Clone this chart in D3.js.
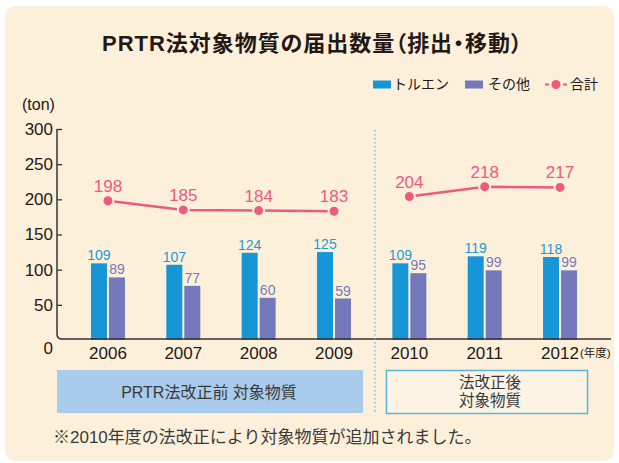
<!DOCTYPE html>
<html><head><meta charset="utf-8">
<script src="https://cdn.jsdelivr.net/npm/d3@7"></script>
<style>html,body{margin:0;padding:0;background:#fff;}svg{display:block;}</style>
</head><body>
<script>
const years = ["2006","2007","2008","2009","2010","2011","2012"];
const toluene = [109,107,124,125,109,119,118];
const others = [89,77,60,59,95,99,99];
const totals = [198,185,184,183,204,218,217];
const lineGroups = [[0,1,2,3],[4,5,6]];
const yTicks = [50,100,150,200,250,300];
const title = "PRTR法対象物質の届出数量（排出・移動）";
const seriesNames = ["トルエン","その他","合計"];
const unitLabel = "(ton)";
const yearUnit = "(年度)";
const boxBefore = "PRTR法改正前 対象物質";
const boxAfter = ["法改正後","対象物質"];
const footnote = "※2010年度の法改正により対象物質が追加されました。";

const W = 619, H = 463;
const BG = "#fdf0da", BLUE = "#1696d6", PURPLE = "#7479bb", PINK = "#ec5a7c", TXT = "#231815";
const FONT = "'Liberation Sans', 'Noto Sans CJK JP', sans-serif";

const svg = d3.select("body").append("svg").attr("width", W).attr("height", H)
  .style("font-family", FONT);

svg.append("rect").attr("x",5).attr("y",6).attr("width",609).attr("height",455)
  .attr("rx",10).attr("fill",BG);

svg.append("text").attr("x",102).attr("y",51)
  .attr("font-size",22).attr("font-weight","bold").attr("fill",TXT)
  .style("font-feature-settings","'palt'")
  .attr("textLength",420).attr("lengthAdjust","spacing").text(title);

const x = d3.scaleBand().domain(years).range([70.3, 597.7]);
const inner = d3.scaleBand().domain(["t","o"]).range([-17,17]).paddingInner(0.111);
const y = d3.scaleLinear().domain([0,300]).range([340,129]);
const cx = d => x(d) + x.bandwidth()/2;

// legend
const lg = svg.append("g").attr("font-size",14).attr("fill",TXT);
lg.append("rect").attr("x",373).attr("y",80.5).attr("width",18).attr("height",8).attr("fill",BLUE);
lg.append("text").attr("x",393).attr("y",89).text(seriesNames[0]);
lg.append("rect").attr("x",465).attr("y",80.5).attr("width",18).attr("height",8).attr("fill",PURPLE);
lg.append("text").attr("x",488).attr("y",89).text(seriesNames[1]);
lg.append("line").attr("x1",545).attr("x2",567).attr("y1",84.5).attr("y2",84.5)
  .attr("stroke",PINK).attr("stroke-width",2).attr("stroke-dasharray","4,14");
lg.append("circle").attr("cx",556).attr("cy",84.5).attr("r",4.5).attr("fill",PINK);
lg.append("text").attr("x",570).attr("y",89).text(seriesNames[2]);

svg.append("text").attr("x",22).attr("y",110).attr("font-size",16).attr("fill",TXT).text(unitLabel);

// y axis
const yAxis = d3.axisLeft(y).tickValues(yTicks).tickSizeInner(-5).tickSizeOuter(0).tickPadding(4);
const ga = svg.append("g").attr("transform","translate(57,0)").call(yAxis);
ga.select(".domain").remove();
ga.selectAll(".tick line").attr("stroke","#3a3230").attr("stroke-width",1.3);
ga.selectAll(".tick text").attr("font-size",17).attr("fill",TXT).style("font-family",FONT);
svg.append("text").attr("x",53).attr("y",354).attr("text-anchor","end")
  .attr("font-size",17).attr("fill",TXT).text("0");

// bars
const gb = svg.append("g");
years.forEach((yr,i)=>{
  gb.append("rect").attr("x",cx(yr)+inner("t")).attr("width",inner.bandwidth())
    .attr("y",y(toluene[i])).attr("height",y(0)-y(toluene[i])).attr("fill",BLUE);
  gb.append("rect").attr("x",cx(yr)+inner("o")).attr("width",inner.bandwidth())
    .attr("y",y(others[i])).attr("height",y(0)-y(others[i])).attr("fill",PURPLE);
  gb.append("text").attr("x",cx(yr)+inner("t")+inner.bandwidth()/2).attr("y",y(toluene[i])-3)
    .attr("text-anchor","middle").attr("font-size",14).attr("fill","#1a9ad6").text(toluene[i]);
  gb.append("text").attr("x",cx(yr)+inner("o")+inner.bandwidth()/2).attr("y",y(others[i])-3)
    .attr("text-anchor","middle").attr("font-size",14).attr("fill",PURPLE).text(others[i]);
});

// axis path with rounded corner
svg.append("path").attr("d","M57,129 V334 Q57,339 62,339 H611")
  .attr("fill","none").attr("stroke","#3a3230").attr("stroke-width",1.5);

// x labels
years.forEach(yr=>{
  svg.append("text").attr("x",cx(yr)).attr("y",359).attr("text-anchor","middle")
    .attr("font-size",17).attr("fill",TXT).text(yr);
});
svg.append("text").attr("x",580).attr("y",357).attr("font-size",11.5).attr("fill",TXT).text(yearUnit);

// divider
svg.append("line").attr("x1",375).attr("x2",375).attr("y1",130).attr("y2",412)
  .attr("stroke","#4aaee0").attr("stroke-width",1.2).attr("stroke-dasharray","1.5,2.5");

// total line (broken at the law change)
const lineGen = d3.line().x(i=>cx(years[i])).y(i=>y(totals[i]));
lineGroups.forEach(g=>{
  svg.append("path").attr("d",lineGen(g)).attr("fill","none").attr("stroke",PINK).attr("stroke-width",2.5);
});
years.forEach((yr,i)=>{
  svg.append("circle").attr("cx",cx(yr)).attr("cy",y(totals[i])).attr("r",5.5)
    .attr("fill",PINK).attr("stroke",BG).attr("stroke-width",2);
  svg.append("text").attr("x",cx(yr)).attr("y",y(totals[i])-9).attr("text-anchor","middle")
    .attr("font-size",17).attr("fill",PINK).text(totals[i]);
});

// boxes
svg.append("rect").attr("x",57).attr("y",370).attr("width",306).attr("height",43).attr("fill","#a9cbec");
svg.append("text").attr("x",209).attr("y",398).attr("text-anchor","middle").attr("font-size",16)
  .attr("fill","#3a3a3a").text(boxBefore);
svg.append("rect").attr("x",386.5).attr("y",370.5).attr("width",201).attr("height",43)
  .attr("fill","#fdf3e4").attr("stroke","#5ab3e0").attr("stroke-width",1.5);
svg.append("text").attr("x",490).attr("y",388).attr("text-anchor","middle").attr("font-size",15.5)
  .attr("fill","#3a3a3a").text(boxAfter[0]);
svg.append("text").attr("x",490).attr("y",406).attr("text-anchor","middle").attr("font-size",15.5)
  .attr("fill","#3a3a3a").text(boxAfter[1]);

svg.append("text").attr("x",53).attr("y",443).attr("font-size",17).attr("fill","#3a3a3a").text(footnote);
</script>
</body></html>
